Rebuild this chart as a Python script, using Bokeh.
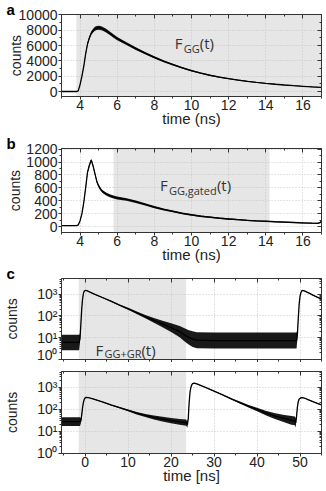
from bokeh.plotting import figure
from bokeh.layouts import column
from bokeh.models import (Range1d, LinearAxis, LogAxis, SingleIntervalTicker, LogTicker,
                          BoxAnnotation, Label, CustomJSTickFormatter)
from bokeh.embed import file_html
from bokeh.resources import INLINE

# ---------------- data ----------------
# panel a : F_GG(t)
a_t = [3.0, 3.80, 3.90, 4.00, 4.10, 4.20, 4.30, 4.40, 4.50, 4.60,
       4.70, 4.80, 4.90, 5.00, 5.10, 5.20, 5.40, 5.60, 5.80, 6.00,
       6.50, 7.00, 7.50, 8.00, 8.50, 9.00, 9.50, 10.0, 10.5, 11.0,
       11.5, 12.0, 12.5, 13.0, 13.5, 14.0, 14.5, 15.0, 15.5, 16.0,
       16.5, 17.0]
a_counts = [0, 0, 80, 900, 2000, 3300, 4900, 6200, 7000, 7600,
            7950, 8200, 8300, 8330, 8300, 8200, 7950, 7600, 7250, 6900,
            6250, 5600, 5000, 4450, 3950, 3500, 3100, 2720, 2400, 2120,
            1880, 1670, 1490, 1330, 1190, 1060, 950, 850, 760, 680,
            600, 530]
a_spread = [0, 0, 10, 40, 80, 120, 160, 200, 220, 240,
            250, 260, 260, 260, 260, 250, 240, 230, 220, 210,
            190, 170, 150, 140, 125, 115, 105, 95, 90, 85,
            80, 70, 65, 60, 55, 50, 50, 45, 45, 40,
            40, 40]
a_gate = [3.8, 17.0]

# panel b : F_GG,gated(t)
b_t = [3.0, 3.8, 3.9, 4.0, 4.1, 4.2, 4.3, 4.4, 4.5, 4.55,
       4.6, 4.65, 4.7, 4.8, 4.9, 5.0, 5.1, 5.2, 5.4, 5.6,
       5.8, 6.0, 6.5, 7.0, 7.5, 8.0, 8.5, 9.0, 9.5, 10.0,
       10.5, 11.0, 11.5, 12.0, 12.5, 13.0, 13.5, 14.0, 14.5, 15.0,
       15.5, 16.0, 16.5, 16.8, 16.95, 17.0]
b_counts = [15, 15, 25, 90, 200, 375, 600, 840, 950, 990,
            1030, 990, 940, 820, 700, 630, 580, 545, 505, 478,
            458, 443, 420, 385, 345, 300, 265, 235, 205, 180,
            160, 145, 130, 117, 106, 97, 89, 82, 75, 69,
            63, 57, 52, 50, 65, 90]
b_spread = [3, 3, 4, 8, 12, 15, 18, 20, 22, 22,
            22, 22, 22, 22, 22, 22, 22, 22, 22, 22,
            22, 22, 20, 19, 18, 17, 16, 15, 14, 13,
            12, 12, 11, 11, 10, 10, 10, 9, 9, 9,
            9, 8, 8, 8, 8, 8]
b_gate = [5.8, 14.2]

# panel c (top) : F_GG+GR(t), log scale; spread in decades
c1_t = [-5.5, -4.0, -2.5, -1.4, -1.2, -1.0, -0.8, -0.6, -0.4, -0.2,
        0.0, 0.4, 1.0, 2.0, 4.0, 6.0, 8.0, 10.0, 12.0, 14.0,
        16.0, 18.0, 20.0, 22.0, 23.0, 24.0, 25.0, 26.0, 30.0, 35.0,
        40.0, 45.0, 49.2, 49.4, 49.6, 49.8, 50.0, 50.2, 50.5, 51.0,
        52.0, 53.0, 54.0, 55.0]
c1_counts = [6, 6, 6, 6, 9, 40, 200, 600, 1100, 1400,
             1510, 1480, 1300, 1050, 710, 480, 316, 214, 141, 93,
             63, 43, 29, 19, 14, 10.5, 8.5, 7.6, 7.3, 7.3,
             7.3, 7.3, 7.3, 15, 80, 350, 800, 1200, 1500, 1420,
             1150, 920, 740, 600]
c1_spread = [0.36, 0.36, 0.36, 0.36, 0.2, 0.05, 0.02, 0.01, 0.01, 0.01,
             0.01, 0.01, 0.01, 0.015, 0.02, 0.025, 0.03, 0.045, 0.06, 0.08,
             0.11, 0.15, 0.2, 0.26, 0.3, 0.33, 0.36, 0.37, 0.37, 0.37,
             0.37, 0.37, 0.37, 0.2, 0.05, 0.02, 0.01, 0.01, 0.01, 0.01,
             0.015, 0.015, 0.02, 0.02]

# panel c (bottom)
c2_t = [-5.5, -3.0, -1.2, -1.0, -0.8, -0.6, -0.4, -0.2, 0.0, 0.3,
        1.0, 2.0, 4.0, 6.0, 8.0, 10.0, 12.0, 14.0, 16.0, 18.0,
        20.0, 22.0, 23.5, 23.8, 24.0, 24.2, 24.4, 24.6, 24.8, 25.0,
        25.4, 26.0, 28.0, 30.0, 32.0, 34.0, 36.0, 38.0, 40.0, 42.0,
        44.0, 46.0, 48.0, 48.8, 49.0, 49.2, 49.4, 49.6, 49.8, 50.2,
        50.6, 51.0, 52.0, 53.0, 54.0, 55.0]
c2_counts = [28, 28, 28, 30, 55, 120, 210, 290, 335, 355,
             335, 295, 220, 160, 120, 90, 67, 53, 43, 36,
             31, 27, 25, 20, 40, 200, 600, 1000, 1300, 1480,
             1580, 1450, 1000, 680, 460, 300, 205, 140, 100, 69,
             51, 40, 32, 30, 24, 50, 130, 230, 300, 340,
             345, 330, 270, 225, 190, 160]
c2_spread = [0.2, 0.2, 0.2, 0.12, 0.05, 0.02, 0.01, 0.01, 0.01, 0.01,
             0.01, 0.015, 0.02, 0.025, 0.03, 0.04, 0.055, 0.07, 0.09, 0.11,
             0.12, 0.13, 0.14, 0.14, 0.05, 0.02, 0.01, 0.01, 0.01, 0.01,
             0.01, 0.01, 0.01, 0.015, 0.02, 0.03, 0.045, 0.06, 0.08, 0.1,
             0.13, 0.16, 0.2, 0.2, 0.2, 0.08, 0.03, 0.015, 0.01, 0.01,
             0.01, 0.01, 0.015, 0.015, 0.02, 0.02]
c_gate = [-1.5, 23.5]

# ---------------- styling helpers ----------------
FONT = "Liberation Sans"
LFONT = "Open Sans"
INK = "#222222"
GRAY = "#e6e6e6"

SUP_CODE = """
const s = {'0':'\u2070','1':'\u00b9','2':'\u00b2','3':'\u00b3','4':'\u2074','5':'\u2075','-':'\u207b'};
const e = Math.round(Math.log10(tick));
return '10' + String(e).split('').map(c => s[c] || c).join('');
"""
EMPTY_CODE = "return '';"


def style_axis(ax, labels=True, inward=False):
    ax.axis_line_color = "#333333"
    ax.major_tick_line_color = "#333333"
    ax.minor_tick_line_color = "#333333"
    if inward:
        ax.major_tick_in, ax.major_tick_out = 4, 0
        ax.minor_tick_in, ax.minor_tick_out = 2, 0
    else:
        ax.major_tick_in, ax.major_tick_out = 0, 3
        ax.minor_tick_in, ax.minor_tick_out = 0, 2
    ax.major_label_text_font = FONT
    ax.major_label_text_color = INK
    ax.major_label_standoff = 0
    if labels:
        ax.major_label_text_font_size = "14px"
    else:
        ax.formatter = CustomJSTickFormatter(code=EMPTY_CODE)
        ax.major_label_text_font_size = "1px"
    ax.axis_label_text_font = FONT
    ax.axis_label_text_font_style = "normal"
    ax.axis_label_text_color = INK


def make_fig(height, top, bottom, xr, yr, log=False, letter=None):
    p = figure(width=326, height=height, x_range=Range1d(*xr), y_range=Range1d(*yr),
               y_axis_type="log" if log else "linear",
               output_backend="svg", toolbar_location=None,
               min_border_left=58, min_border_right=5,
               min_border_top=top, min_border_bottom=bottom)
    p.outline_line_color = "#555555"
    p.outline_line_width = 1
    p.background_fill_color = "white"
    p.border_fill_color = "white"
    for g in (p.xgrid[0], p.ygrid[0]):
        g.grid_line_color = "#c4c4c4"
        g.grid_line_dash = "1 2"
        g.grid_line_alpha = 0.9
    if letter:
        p.title.text = letter
        p.title.align = "left"
        p.title.offset = -55
        p.title.standoff = -6
        p.title.text_font = FONT
        p.title.text_font_style = "bold"
        p.title.text_font_size = "15px"
        p.title.text_color = "black"
    return p


def finish_axes(p, xtick, ytick_int, log, xlabel, ylabel_standoff, show_xlabels=True):
    xa = p.xaxis[0]
    xa.ticker = SingleIntervalTicker(interval=xtick, num_minor_ticks=2)
    style_axis(xa, labels=show_xlabels)
    if xlabel:
        xa.axis_label = xlabel
        xa.axis_label_text_font_size = "15px"
        xa.axis_label_standoff = -3
    ya = p.yaxis[0]
    if log:
        ya.ticker = LogTicker(num_minor_ticks=10)
        ya.formatter = CustomJSTickFormatter(code=SUP_CODE)
    else:
        ya.ticker = SingleIntervalTicker(interval=ytick_int, num_minor_ticks=2)
    style_axis(ya)
    ya.major_label_standoff = 1
    ya.axis_label = "counts"
    ya.axis_label_text_font_size = "14px"
    ya.axis_label_standoff = ylabel_standoff
    # mirrored axes with inward ticks
    top_ax = LinearAxis(ticker=SingleIntervalTicker(interval=xtick, num_minor_ticks=2))
    style_axis(top_ax, labels=False, inward=True)
    p.add_layout(top_ax, "above")
    if log:
        right_ax = LogAxis(ticker=LogTicker(num_minor_ticks=10))
    else:
        right_ax = LinearAxis(ticker=SingleIntervalTicker(interval=ytick_int, num_minor_ticks=2))
    style_axis(right_ax, labels=False, inward=True)
    p.add_layout(right_ax, "right")


def add_curve(p, t, counts, lo, hi):
    p.varea(x=t, y1=lo, y2=hi, fill_color="black", fill_alpha=0.9)
    p.line(t, counts, line_color="black", line_width=1.3)


def add_name(p, x, y, sub, sub_dx, t_dx, sub_dy):
    common = dict(text_font=LFONT, text_color="#333333", text_baseline="middle")
    p.add_layout(Label(x=x, y=y, text="F", text_font_size="15px", **common))
    p.add_layout(Label(x=x, y=y, x_offset=sub_dx, y_offset=sub_dy, text=sub,
                       text_font_size="11px", **common))
    p.add_layout(Label(x=x, y=y, x_offset=t_dx, text="(t)", text_font_size="15px", **common))


# ---------------- panel a ----------------
pa = make_fig(131, 14, 35, (3.0, 17.0), (-650, 10050), letter="a")
pa.add_layout(BoxAnnotation(left=a_gate[0], right=a_gate[1], fill_color=GRAY,
                            fill_alpha=1, line_color=None, level="image"))
add_curve(pa, a_t, a_counts,
          [v - s for v, s in zip(a_counts, a_spread)],
          [v + s for v, s in zip(a_counts, a_spread)])
finish_axes(pa, 2, 2000, False, "time (ns)", -8)
add_name(pa, 9.1, 6300, "GG", 9, 25, -5)

# ---------------- panel b ----------------
pb = make_fig(134, 17, 33, (3.0, 17.0), (-92, 1210), letter="b")
pb.add_layout(BoxAnnotation(left=b_gate[0], right=b_gate[1], fill_color=GRAY,
                            fill_alpha=1, line_color=None, level="image"))
add_curve(pb, b_t, b_counts,
          [v - s for v, s in zip(b_counts, b_spread)],
          [v + s for v, s in zip(b_counts, b_spread)])
finish_axes(pb, 2, 200, False, "time (ns)", 0)
add_name(pb, 8.3, 650, "GG,gated", 9, 57, -6)

# ---------------- panel c (top) ----------------
pc1 = make_fig(97, 12, 3, (-5.5, 55.0), (0.98, 5335), log=True, letter="c")
pc1.add_layout(BoxAnnotation(left=c_gate[0], right=c_gate[1], fill_color=GRAY,
                             fill_alpha=1, line_color=None, level="image"))
add_curve(pc1, c1_t, c1_counts,
          [v / 10 ** s for v, s in zip(c1_counts, c1_spread)],
          [v * 10 ** s for v, s in zip(c1_counts, c1_spread)])
finish_axes(pc1, 10, None, True, None, 14, show_xlabels=False)
add_name(pc1, 2.4, 2.7, "GG+GR", 9, 46, -4)

# ---------------- panel c (bottom) ----------------
pc2 = make_fig(129, 9, 38, (-5.5, 55.0), (0.98, 5335), log=True)
pc2.add_layout(BoxAnnotation(left=c_gate[0], right=c_gate[1], fill_color=GRAY,
                             fill_alpha=1, line_color=None, level="image"))
add_curve(pc2, c2_t, c2_counts,
          [v / 10 ** s for v, s in zip(c2_counts, c2_spread)],
          [v * 10 ** s for v, s in zip(c2_counts, c2_spread)])
finish_axes(pc2, 10, None, True, "time [ns]", 14)

layout = column(pa, pb, pc1, pc2, spacing=0)
open("out.html", "w").write(file_html(layout, INLINE))
